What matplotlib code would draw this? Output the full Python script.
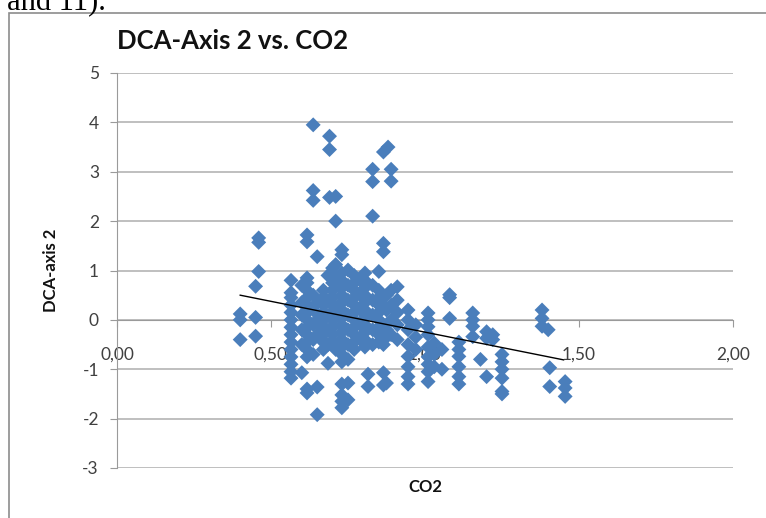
import matplotlib
matplotlib.use("Agg")
import matplotlib.pyplot as plt
from matplotlib.patches import Rectangle

# CO2 value of each column and the DCA-axis 2 scores
co2_cols = [0.40, 0.45, 0.46, 0.565, 0.60, 0.617, 0.637, 0.65, 0.67, 0.685,
            0.69, 0.70, 0.71, 0.73, 0.75, 0.77, 0.79, 0.805, 0.815, 0.83,
            0.85, 0.865, 0.875, 0.88, 0.89, 0.91, 0.945, 0.97, 1.01, 1.03,
            1.055, 1.08, 1.11, 1.155, 1.18, 1.20, 1.22, 1.25, 1.38, 1.40,
            1.405, 1.455]
dca_cols = [
    [0.12, 0.0, -0.4],
    [0.68, 0.05, -0.33],
    [1.66, 1.57, 0.98],
    [0.8, 0.55, 0.45, 0.3, 0.15, 0.0, -0.15, -0.3, -0.45, -0.6, -0.75, -0.9, -1.05, -1.18],
    [0.7, 0.35, 0.1, -0.2, -0.5, -1.07],
    [1.72, 1.58, 0.85, 0.75, 0.6, 0.45, 0.3, 0.15, 0.0, -0.15, -0.3, -0.45, -0.6, -0.75, -1.4, -1.48],
    [3.95, 2.62, 2.42, 0.5, 0.2, -0.1, -0.4, -0.7],
    [1.28, 0.35, 0.0, -0.3, -1.36, -1.92],
    [0.6, 0.45, 0.3, 0.15, 0.0, -0.15, -0.3, -0.45, -0.6],
    [0.9, 0.4, 0.1, -0.2, -0.5, -0.88],
    [3.72, 3.45, 2.48],
    [1.05, 0.75, 0.6, 0.45, 0.3, 0.15, 0.0, -0.15, -0.3, -0.45],
    [2.5, 2.0, 1.12, 0.85, 0.2, -0.6],
    [1.42, 1.32, 0.95, 0.8, 0.65, 0.5, 0.35, 0.2, 0.05, -0.1, -0.25, -0.4, -0.55, -0.7, -0.85,
     -1.3, -1.52, -1.65, -1.78],
    [1.01, 0.7, 0.4, 0.1, -0.2, -0.5, -0.8, -1.28, -1.62],
    [0.9, 0.75, 0.6, 0.45, 0.3, 0.15, 0.0, -0.15, -0.3, -0.45, -0.6],
    [0.8, 0.5, 0.2, -0.1, -0.4],
    [0.95, 0.8, 0.65, 0.5, 0.35, 0.2, 0.05, -0.1, -0.25, -0.4, -0.55],
    [-1.1, -1.35],
    [3.05, 2.8, 2.1, 0.7, 0.4, 0.1, -0.2, -0.5],
    [0.98, 0.6, 0.45, 0.3, 0.15, 0.0, -0.15, -0.3, -0.45],
    [3.4, 1.55, 1.38, 0.3, -0.1, -0.5, -1.07, -1.32],
    [0.5, 0.2, -0.2, -0.35, -1.28],
    [3.5],
    [3.05, 2.81, 0.6, 0.3, 0.0, -0.3],
    [0.67, 0.4, 0.15, -0.1, -0.4],
    [0.2, 0.0, -0.2, -0.5, -0.74, -0.95, -1.15, -1.3],
    [-0.1, -0.35, -0.6],
    [0.14, 0.0, -0.14, -0.3, -0.55, -0.75, -0.9, -1.05, -1.25],
    [-0.47, -0.7, -0.95],
    [-0.6, -1.0],
    [0.51, 0.45, 0.03],
    [-0.45, -0.6, -0.74, -0.95, -1.15, -1.3],
    [0.14, 0.0, -0.13, -0.34],
    [-0.8],
    [-0.24, -0.37, -1.15],
    [-0.3, -0.4],
    [-0.7, -0.85, -1.0, -1.18, -1.45, -1.5],
    [0.2, 0.03, -0.13],
    [-0.2],
    [-0.97, -1.35],
    [-1.25, -1.38, -1.55],
]

# linear trendline ends as drawn in the chart
trend_x = [0.40, 1.45]
trend_y = [0.50, -0.81]

co2 = []
dca = []
for xv, ys in zip(co2_cols, dca_cols):
    for yv in ys:
        co2.append(xv)
        dca.append(yv)

plt.rcParams["font.family"] = ["Lato", "DejaVu Sans"]
plt.rcParams["axes.unicode_minus"] = False

fig = plt.figure(figsize=(7.66, 5.18), dpi=100)
ax = fig.add_axes([117/766, 50/518, 616/766, 395/518])

ax.set_xlim(0, 2.0)
ax.set_ylim(-3, 5)
ax.set_yticks(range(-3, 6))
ax.set_xticks([0, 0.5, 1.0, 1.5, 2.0])
ax.set_xticklabels(["0,00", "0,50", "1,00", "1,50", "2,00"])

ax.grid(axis="y", color="#b4b4b4", lw=1.2, zorder=0)
ax.set_axisbelow(True)
for s in ["top", "right"]:
    ax.spines[s].set_visible(False)
ax.spines["bottom"].set_position(("data", 0))
ax.spines["bottom"].set_color("#9a9a9a")
ax.spines["left"].set_color("#9a9a9a")
ax.tick_params(axis="y", colors="#9a9a9a", labelcolor="#404040", length=5, labelsize=12.5, pad=8)
ax.tick_params(axis="x", colors="#9a9a9a", labelcolor="#404040", length=5, labelsize=12.5, pad=14)

ax.scatter(co2, dca, marker="D", s=58, color="#4a7ebb", edgecolors="none", zorder=3)
ax.plot(trend_x, trend_y, color="black", lw=1.0, zorder=4)

ax.set_title("DCA-Axis 2 vs. CO2", loc="left", x=0.0, y=1.0, pad=17,
             fontsize=18.5, fontweight="bold", color="#111111")
ax.set_ylabel("DCA-axis 2", fontsize=12, fontweight="bold", color="#111111", labelpad=17)
fig.text(425/766, 1 - 487/518, "CO2", ha="center", va="center",
         fontsize=12, fontweight="bold", color="#111111")

# outer chart frame and the cut-off document text above it
fig.patches.append(Rectangle((9/766, -0.1), 1.2, 1.1 - 13/518,
                             transform=fig.transFigure, fill=False,
                             edgecolor="#8c8c8c", lw=1.2, clip_on=False))
fig.text(7/766, 1 - 10/518, "and 11).", ha="left", va="baseline",
         fontsize=22, family="Liberation Serif", color="black")

fig.savefig("out.png", dpi=100)
